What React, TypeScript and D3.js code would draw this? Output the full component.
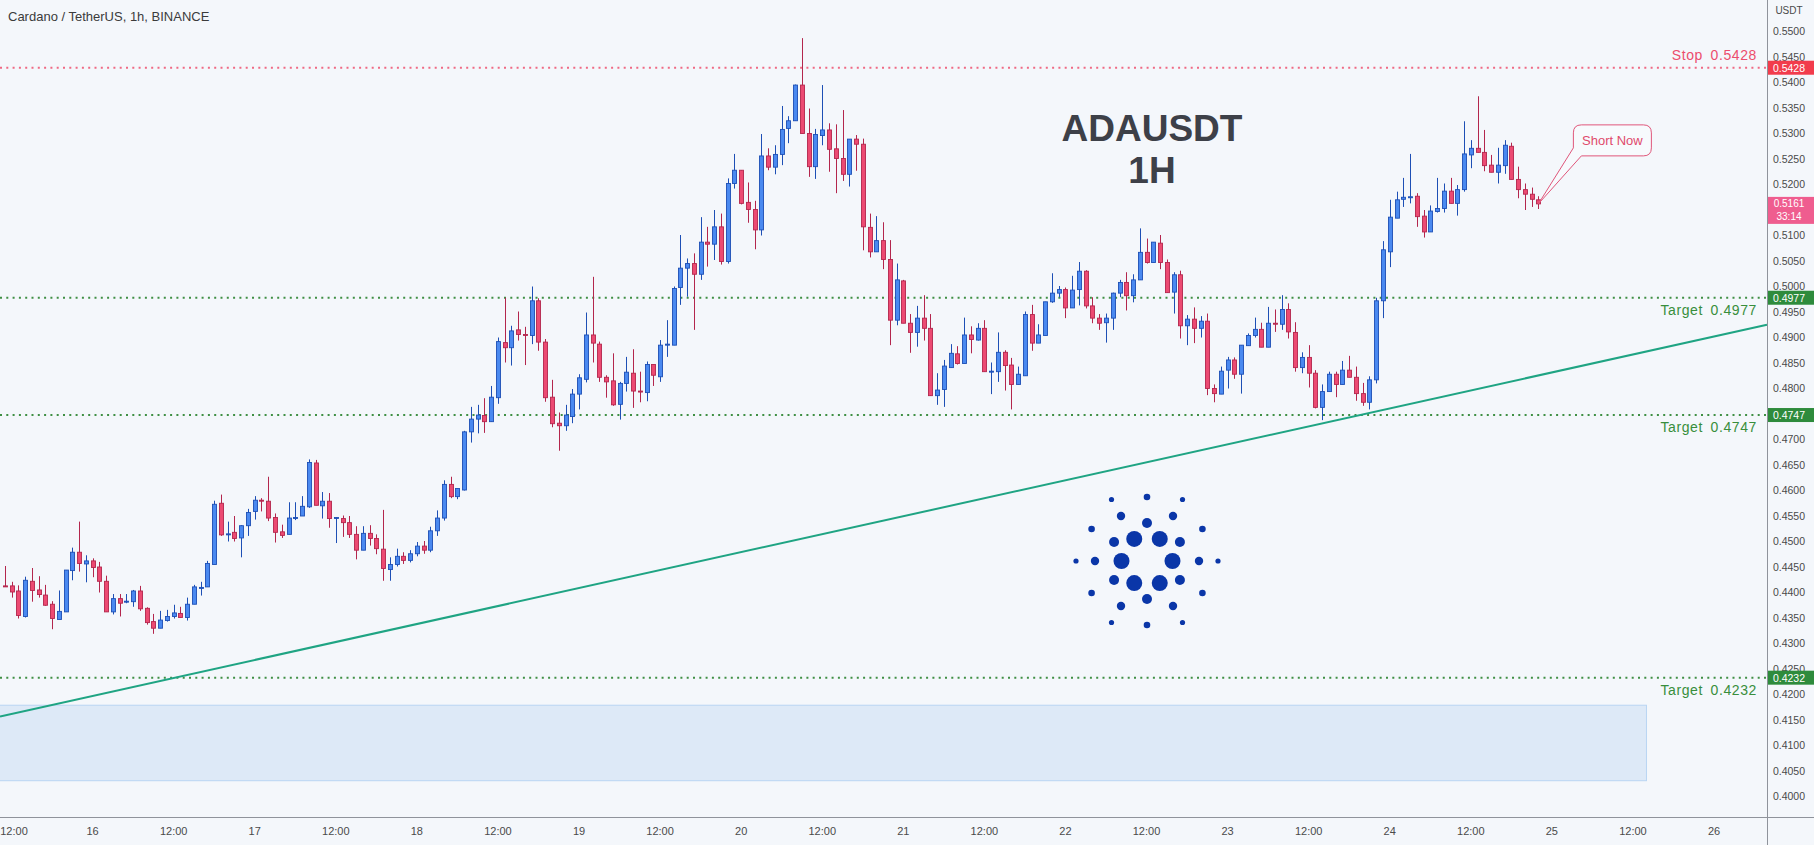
import React from "react";
import { scaleLinear, range } from "d3";

// hourly candles [open, high, low, close]; first row of day15 is 11:00
const day15 = [
  [0.4412, 0.4451, 0.441, 0.4411], [0.4412, 0.442, 0.4389, 0.44], [0.4402, 0.4413, 0.4348, 0.4354],
  [0.4352, 0.443, 0.435, 0.4423], [0.4421, 0.4447, 0.4381, 0.4403], [0.4404, 0.4431, 0.4389, 0.4395],
  [0.4394, 0.4414, 0.4373, 0.4374], [0.4376, 0.4382, 0.4327, 0.4348], [0.4346, 0.4403, 0.4346, 0.4362],
  [0.4361, 0.4443, 0.4361, 0.4443], [0.4442, 0.4487, 0.4423, 0.4478], [0.4478, 0.4538, 0.444, 0.4456],
  [0.4455, 0.4472, 0.4419, 0.4461],
];
const day16 = [
  [0.4461, 0.4466, 0.4429, 0.4448], [0.4449, 0.4459, 0.4399, 0.4421], [0.4421, 0.4432, 0.4361, 0.4361],
  [0.4361, 0.4396, 0.4356, 0.4387], [0.4387, 0.4396, 0.4352, 0.4378], [0.4381, 0.4396, 0.4378, 0.4382],
  [0.4381, 0.4404, 0.4371, 0.4402], [0.4402, 0.4412, 0.4363, 0.4367], [0.4368, 0.437, 0.4336, 0.434],
  [0.4342, 0.4357, 0.4318, 0.4329], [0.4329, 0.4363, 0.4329, 0.4345], [0.4344, 0.4365, 0.4342, 0.4352],
  [0.4352, 0.4375, 0.4348, 0.4359], [0.4358, 0.4371, 0.435, 0.435], [0.435, 0.4389, 0.4344, 0.4376],
  [0.4376, 0.4414, 0.4376, 0.441], [0.4408, 0.442, 0.4393, 0.4409], [0.441, 0.4461, 0.441, 0.4456],
  [0.4454, 0.4579, 0.4454, 0.4572], [0.4574, 0.4591, 0.451, 0.4512], [0.4513, 0.4538, 0.4499, 0.4514],
  [0.4517, 0.4549, 0.4499, 0.4505], [0.4506, 0.4531, 0.4468, 0.453], [0.453, 0.4563, 0.451, 0.4556],
];
const day17 = [
  [0.4558, 0.4588, 0.4542, 0.458], [0.458, 0.4584, 0.4558, 0.4579], [0.4578, 0.4626, 0.4539, 0.4545],
  [0.4546, 0.4554, 0.4497, 0.4517], [0.4518, 0.4532, 0.4506, 0.4511], [0.4513, 0.4576, 0.4513, 0.4545],
  [0.4545, 0.4576, 0.4541, 0.4546], [0.4549, 0.4588, 0.4549, 0.4568], [0.4567, 0.466, 0.4565, 0.4654],
  [0.4653, 0.4659, 0.457, 0.457], [0.4569, 0.4596, 0.4544, 0.4578], [0.4578, 0.4594, 0.4526, 0.4544],
  [0.4545, 0.4547, 0.4496, 0.4546], [0.4544, 0.455, 0.4508, 0.4536], [0.4536, 0.4549, 0.4506, 0.4513],
  [0.4513, 0.4529, 0.4464, 0.4482], [0.4482, 0.4529, 0.4482, 0.4515], [0.4515, 0.4531, 0.4491, 0.4505],
  [0.4505, 0.4513, 0.4474, 0.4485], [0.4484, 0.4561, 0.4422, 0.4446], [0.4444, 0.4468, 0.4422, 0.4454],
  [0.4454, 0.4485, 0.445, 0.447], [0.447, 0.4478, 0.4455, 0.4462], [0.4462, 0.4482, 0.4458, 0.4475],
];
const day18 = [
  [0.4475, 0.4498, 0.447, 0.449], [0.449, 0.45, 0.4475, 0.4482], [0.4482, 0.4528, 0.4478, 0.452],
  [0.452, 0.456, 0.451, 0.4545], [0.4545, 0.4619, 0.454, 0.4611], [0.4611, 0.4626, 0.4584, 0.4587],
  [0.4587, 0.4603, 0.4582, 0.4603], [0.46, 0.4716, 0.4599, 0.4714], [0.4714, 0.4763, 0.4693, 0.4739],
  [0.4739, 0.4767, 0.4711, 0.4747], [0.4746, 0.478, 0.4712, 0.4734], [0.4734, 0.4804, 0.4734, 0.4782],
  [0.4781, 0.4899, 0.4769, 0.4891], [0.4889, 0.4977, 0.485, 0.4879], [0.4879, 0.4922, 0.4844, 0.4912],
  [0.4914, 0.495, 0.4893, 0.4905], [0.4905, 0.492, 0.4845, 0.4903], [0.4903, 0.4999, 0.4886, 0.4971],
  [0.4971, 0.4976, 0.4873, 0.489], [0.489, 0.4896, 0.4773, 0.4781], [0.4782, 0.4816, 0.4723, 0.473],
  [0.4731, 0.4752, 0.4677, 0.4726], [0.4726, 0.4767, 0.4716, 0.4747], [0.4744, 0.4798, 0.4731, 0.4788],
];
const day19 = [
  [0.4788, 0.4827, 0.4758, 0.482], [0.4817, 0.4948, 0.4811, 0.4904], [0.4904, 0.5018, 0.485, 0.4888],
  [0.4886, 0.4891, 0.4812, 0.4821], [0.4821, 0.4825, 0.4781, 0.4812], [0.4814, 0.4868, 0.4765, 0.4767],
  [0.4768, 0.4812, 0.4738, 0.4809], [0.4809, 0.4861, 0.4793, 0.4831], [0.4829, 0.4876, 0.4761, 0.4794],
  [0.4794, 0.4832, 0.4772, 0.4793], [0.4791, 0.4852, 0.4774, 0.4846], [0.4846, 0.4846, 0.4804, 0.4825],
  [0.4822, 0.4894, 0.4812, 0.4884], [0.4884, 0.4933, 0.4861, 0.4886], [0.4884, 0.4999, 0.4884, 0.4995],
  [0.4997, 0.51, 0.4963, 0.5035], [0.5035, 0.5054, 0.4979, 0.5044], [0.5044, 0.5064, 0.4914, 0.5023],
  [0.5023, 0.5135, 0.5012, 0.5086], [0.5086, 0.5116, 0.5038, 0.5082], [0.5082, 0.5149, 0.5051, 0.5116],
  [0.5116, 0.5142, 0.5042, 0.5048], [0.5048, 0.5211, 0.5044, 0.5201], [0.5201, 0.5259, 0.5191, 0.5227],
];
const day20 = [
  [0.5227, 0.5227, 0.516, 0.5162], [0.5164, 0.5203, 0.5124, 0.515], [0.515, 0.5167, 0.5072, 0.511],
  [0.511, 0.5298, 0.5099, 0.5255], [0.5255, 0.527, 0.5227, 0.5233], [0.5233, 0.5276, 0.5219, 0.5258],
  [0.5258, 0.5353, 0.5237, 0.5307], [0.5309, 0.5333, 0.528, 0.5324], [0.5324, 0.5395, 0.5324, 0.5394],
  [0.5394, 0.5486, 0.5299, 0.5299], [0.5299, 0.5348, 0.5214, 0.5234], [0.5234, 0.5308, 0.521, 0.5297],
  [0.5295, 0.5394, 0.5276, 0.5306], [0.5306, 0.5319, 0.5224, 0.5268], [0.5269, 0.5317, 0.5182, 0.525],
  [0.525, 0.5345, 0.5206, 0.5219], [0.5219, 0.5288, 0.5195, 0.5288], [0.5288, 0.5296, 0.5226, 0.5278],
  [0.5278, 0.5289, 0.507, 0.5116], [0.5115, 0.5142, 0.5056, 0.5067], [0.5067, 0.5137, 0.5067, 0.5089],
  [0.5089, 0.5125, 0.5033, 0.5052], [0.5052, 0.509, 0.4884, 0.4933], [0.4933, 0.5044, 0.4923, 0.5012],
];
const day21 = [
  [0.501, 0.5012, 0.4927, 0.4927], [0.4927, 0.4945, 0.4869, 0.4909], [0.4909, 0.4961, 0.4881, 0.4937],
  [0.4937, 0.4982, 0.4893, 0.4917], [0.4917, 0.4945, 0.4785, 0.4785], [0.4785, 0.4829, 0.4767, 0.4796],
  [0.4797, 0.4855, 0.4763, 0.4843], [0.484, 0.4886, 0.484, 0.4868], [0.4867, 0.4882, 0.4846, 0.4848],
  [0.4848, 0.4938, 0.4848, 0.4904], [0.4904, 0.4921, 0.4868, 0.4895], [0.4894, 0.4927, 0.4893, 0.4917],
  [0.4917, 0.4933, 0.4832, 0.4832], [0.4832, 0.485, 0.4788, 0.4833], [0.4832, 0.4909, 0.4812, 0.487],
  [0.487, 0.4874, 0.4795, 0.4844], [0.4845, 0.4859, 0.4758, 0.4807], [0.4807, 0.4842, 0.4807, 0.4827],
  [0.4824, 0.495, 0.4824, 0.4944], [0.4944, 0.4963, 0.4873, 0.4888], [0.4888, 0.4925, 0.4888, 0.4904],
  [0.4903, 0.4969, 0.4903, 0.4969], [0.4969, 0.5025, 0.4967, 0.4986], [0.4986, 0.5, 0.4978, 0.4993],
];
const day22 = [
  [0.4993, 0.4997, 0.4937, 0.4957], [0.4957, 0.502, 0.4957, 0.4992], [0.4993, 0.5047, 0.4962, 0.5029],
  [0.5029, 0.5031, 0.4956, 0.4961], [0.4961, 0.4978, 0.4927, 0.4937], [0.4937, 0.4945, 0.4914, 0.4927],
  [0.4928, 0.4946, 0.4889, 0.4937], [0.4937, 0.4987, 0.4914, 0.4986], [0.4986, 0.5012, 0.4978, 0.5007],
  [0.5007, 0.5027, 0.4952, 0.4981], [0.4981, 0.5023, 0.4968, 0.5012], [0.5012, 0.5113, 0.5012, 0.5066],
  [0.5066, 0.5093, 0.5044, 0.5046], [0.5046, 0.5086, 0.5046, 0.5086], [0.5084, 0.51, 0.5033, 0.5046],
  [0.5046, 0.5052, 0.4987, 0.4987], [0.4988, 0.5027, 0.4946, 0.5022], [0.5022, 0.503, 0.4897, 0.4922],
  [0.4922, 0.4943, 0.4884, 0.4935], [0.4935, 0.4958, 0.4888, 0.4917], [0.4917, 0.4941, 0.4899, 0.4931],
  [0.4931, 0.4946, 0.4786, 0.4799], [0.4799, 0.4807, 0.4772, 0.4789], [0.4788, 0.4842, 0.4788, 0.4833],
];
const day23 = [
  [0.4835, 0.4861, 0.4799, 0.4855], [0.4855, 0.486, 0.4818, 0.4827], [0.4827, 0.4884, 0.4789, 0.4884],
  [0.4883, 0.4907, 0.4883, 0.4903], [0.4903, 0.4938, 0.4899, 0.4915], [0.4915, 0.4928, 0.488, 0.488],
  [0.488, 0.4959, 0.488, 0.4927], [0.4927, 0.4954, 0.491, 0.4926], [0.4925, 0.4982, 0.4914, 0.4954],
  [0.4954, 0.4966, 0.4897, 0.491], [0.4909, 0.4929, 0.4832, 0.484], [0.484, 0.487, 0.4829, 0.486],
  [0.486, 0.4884, 0.4801, 0.4829], [0.4829, 0.4835, 0.476, 0.4762], [0.4762, 0.4807, 0.4737, 0.4793],
  [0.4793, 0.4832, 0.4793, 0.4827], [0.4827, 0.4832, 0.4782, 0.4807], [0.4807, 0.4853, 0.4807, 0.4835],
  [0.4835, 0.4863, 0.4821, 0.4821], [0.4821, 0.4842, 0.4775, 0.4789], [0.4789, 0.481, 0.4765, 0.4772],
  [0.4772, 0.4823, 0.4758, 0.4816], [0.4816, 0.4977, 0.4809, 0.4971], [0.4971, 0.5088, 0.4937, 0.5071],
];
const day24 = [
  [0.5067, 0.5169, 0.5037, 0.5135], [0.5133, 0.5185, 0.5133, 0.5169], [0.517, 0.5212, 0.5155, 0.5174],
  [0.5174, 0.5259, 0.5162, 0.5175], [0.5176, 0.5182, 0.5116, 0.5136], [0.5137, 0.5149, 0.5095, 0.5106],
  [0.5106, 0.5158, 0.5106, 0.5147], [0.5146, 0.5212, 0.5144, 0.5152], [0.5152, 0.5201, 0.5144, 0.5186],
  [0.5186, 0.5212, 0.5162, 0.5162], [0.5162, 0.5198, 0.5138, 0.5189], [0.5189, 0.5323, 0.5185, 0.5259],
  [0.5257, 0.5286, 0.5231, 0.527], [0.527, 0.5372, 0.5262, 0.5262], [0.5262, 0.5306, 0.5225, 0.5236],
  [0.5237, 0.5257, 0.5223, 0.5223], [0.5223, 0.5271, 0.5201, 0.5237], [0.5236, 0.5286, 0.522, 0.5276],
  [0.5274, 0.5281, 0.5209, 0.5209], [0.5209, 0.5234, 0.5172, 0.5189], [0.5189, 0.5201, 0.5149, 0.518],
  [0.518, 0.5193, 0.5155, 0.517], [0.5169, 0.5176, 0.5151, 0.5161],
];
const firstHour = 11; // hours after 15th 00:00

const timeTickHours = range(12, 265, 12);
const timeTickLabels = [
  "12:00", "16", "12:00", "17", "12:00", "18", "12:00", "19", "12:00", "20", "12:00",
  "21", "12:00", "22", "12:00", "23", "12:00", "24", "12:00", "25", "12:00", "26",
];
const priceTicks = range(80, 111).map((k) => k / 200);

const levelPrices = [0.5428, 0.4977, 0.4747, 0.4232];
const levelNames = ["Stop", "Target", "Target", "Target"];

const trendHours = [10.3, 271.84];
const trendPrices = [0.4156, 0.4924];

const zoneHours = [10, 254];
const zonePrices = [0.403, 0.4178];

const lastPrice = 0.5161;
const countdown = "33:14";

const W = 1814;
const H = 845;
const AXIS_X = 1767;
const AXIS_Y = 817;
const BG = "#f4f7fb";
const UP = { fill: "#4a89f0", stroke: "#1d4fb5" };
const DOWN = { fill: "#ec4a72", stroke: "#b3264d" };
const RED = "#ec4d6d";
const GREEN = "#388e3c";
const FONT = "'Liberation Sans', Arial, sans-serif";

const x = scaleLinear().domain([10.294, 271.84]).range([0, AXIS_X]);
const y = scaleLinear().domain([0.4, 0.55]).range([796, 31]);

const candles = [day15, day16, day17, day18, day19, day20, day21, day22, day23, day24]
  .flat()
  .map((d, i) => ({ hour: firstHour + i, o: d[0], h: d[1], l: d[2], c: d[3] }));

function CardanoLogo({ cx, cy }: { cx: number; cy: number }) {
  // rings: [distance, start angle, radius]
  const rings = [
    [25.5, 0, 8],
    [38, 30, 5],
    [52, 0, 4.2],
    [64, 30, 3.3],
    [71, 0, 2.6],
  ];
  const dots: JSX.Element[] = [];
  rings.forEach(([d, a0, r], ri) => {
    for (let k = 0; k < 6; k++) {
      const a = ((a0 + k * 60) * Math.PI) / 180;
      dots.push(
        <circle key={`${ri}-${k}`} cx={cx + d * Math.cos(a)} cy={cy + d * Math.sin(a)} r={r} fill="#0a36a8" />
      );
    }
  });
  return <g>{dots}</g>;
}

export default function App() {
  const last = candles[candles.length - 1];
  const tipX = x(last.hour);
  const tipY = y(lastPrice);
  // callout box
  const L = tipX + 35, T = tipY - 79, R = L + 78, B = T + 31, r = 8;
  const calloutPath = `M${L + r},${T} H${R - r} Q${R},${T} ${R},${T + r} V${B - r} Q${R},${B} ${R - r},${B} H${L + 8} L${tipX},${tipY} L${L},${B - 8} V${T + r} Q${L},${T} ${L + r},${T} Z`;

  // tick labels that sit fully under a price box are hidden, as on the platform
  const visibleTicks = priceTicks.filter((p) => {
    const yy = y(p);
    if (yy > tipY - 12 && yy < tipY + 26) return false;
    return levelPrices.every((lp) => Math.abs(y(lp) - yy) > 8);
  });

  return (
    <svg
      width={W}
      height={H}
      style={{ position: "fixed", left: 0, top: 0, background: BG }}
      fontFamily={FONT}
    >
      <rect width={W} height={H} fill={BG} />

      {/* zone */}
      <rect
        x={x(zoneHours[0])}
        y={y(zonePrices[1])}
        width={x(zoneHours[1]) - x(zoneHours[0])}
        height={y(zonePrices[0]) - y(zonePrices[1])}
        fill="#dde9f7"
        stroke="#b9d5f3"
        strokeWidth={1}
      />

      {/* levels */}
      {levelPrices.map((p, i) => {
        const col = i === 0 ? RED : GREEN;
        const yy = y(p);
        const ty = i === 0 ? yy - 8 : yy + 17;
        return (
          <g key={p}>
            <line
              x1={0}
              x2={AXIS_X}
              y1={yy}
              y2={yy}
              stroke={i === 0 ? "#ef6a84" : "#3f8f44"}
              strokeWidth={2}
              strokeDasharray="2 4.3"
            />
            <text x={1757} y={ty} textAnchor="end" fontSize={14} fill={col} letterSpacing={0.6}>
              {p.toFixed(4)}
            </text>
            <text x={1703} y={ty} textAnchor="end" fontSize={14} fill={col} letterSpacing={0.6}>
              {levelNames[i]}
            </text>
          </g>
        );
      })}

      {/* trend line */}
      <line
        x1={x(trendHours[0])}
        y1={y(trendPrices[0])}
        x2={x(trendHours[1])}
        y2={y(trendPrices[1])}
        stroke="#1fa483"
        strokeWidth={2}
      />

      {/* candles */}
      {candles.map((d) => {
        const up = d.c >= d.o;
        const col = up ? UP : DOWN;
        const cx = Math.round(x(d.hour));
        const top = y(Math.max(d.o, d.c));
        const bot = y(Math.min(d.o, d.c));
        return (
          <g key={d.hour}>
            <line x1={cx + 0.5} x2={cx + 0.5} y1={y(d.h)} y2={y(d.l)} stroke={col.stroke} strokeWidth={1} />
            <rect
              x={cx - 1.5}
              y={top}
              width={4}
              height={Math.max(1, bot - top)}
              fill={col.fill}
              stroke={col.stroke}
              strokeWidth={0.9}
            />
          </g>
        );
      })}

      {/* title texts */}
      <text x={8} y={21} fontSize={13} fill="#3b3b3b">
        Cardano / TetherUS, 1h, BINANCE
      </text>
      <text x={1152} y={141} textAnchor="middle" fontSize={37} fontWeight="bold" fill="#3d4048">
        ADAUSDT
      </text>
      <text x={1152} y={183} textAnchor="middle" fontSize={37} fontWeight="bold" fill="#3d4048">
        1H
      </text>

      <CardanoLogo cx={1147} cy={561} />

      {/* callout */}
      <path d={calloutPath} fill="#f7fafd" stroke="#e0567a" strokeWidth={1} />
      <text x={(L + R) / 2} y={T + 20} textAnchor="middle" fontSize={13} fill="#e04a6c">
        Short Now
      </text>

      {/* axes */}
      <rect x={AXIS_X} y={0} width={W - AXIS_X} height={H} fill={BG} />
      <rect x={0} y={AXIS_Y} width={W} height={H - AXIS_Y} fill={BG} />
      <line x1={AXIS_X + 0.5} x2={AXIS_X + 0.5} y1={0} y2={H} stroke="#8f939b" />
      <line x1={0} x2={W} y1={AXIS_Y + 0.5} y2={AXIS_Y + 0.5} stroke="#8f939b" />
      <text x={1789} y={14} textAnchor="middle" fontSize={10} fill="#4a4a4a">
        USDT
      </text>
      {visibleTicks.map((p) => (
        <text key={p} x={1789} y={y(p) + 4} textAnchor="middle" fontSize={10.5} fill="#4a4a4a">
          {p.toFixed(4)}
        </text>
      ))}
      {timeTickHours.map((h, i) => (
        <text key={h} x={Math.max(x(h), 14)} y={835} textAnchor="middle" fontSize={11} fill="#4a4a4a">
          {timeTickLabels[i]}
        </text>
      ))}

      {/* price scale labels */}
      {levelPrices.map((p, i) => (
        <g key={`b${p}`}>
          <rect x={AXIS_X + 1} y={y(p) - 7} width={W - AXIS_X - 1} height={14} fill={i === 0 ? "#f23c4c" : "#2e8b3c"} />
          <text x={1789} y={y(p) + 4} textAnchor="middle" fontSize={10.5} fill="#fff">
            {p.toFixed(4)}
          </text>
        </g>
      ))}
      <rect x={AXIS_X + 1} y={tipY - 7} width={W - AXIS_X - 1} height={27} fill="#ef5d8f" />
      <text x={1789} y={tipY + 3} textAnchor="middle" fontSize={10} fill="#fff">
        {lastPrice.toFixed(4)}
      </text>
      <text x={1789} y={tipY + 16.5} textAnchor="middle" fontSize={10} fill="#fff">
        {countdown}
      </text>
    </svg>
  );
}
